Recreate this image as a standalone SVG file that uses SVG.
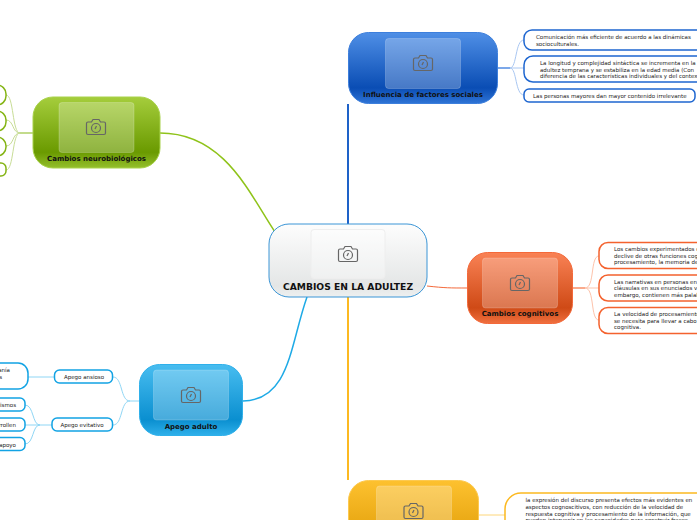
<svg xmlns="http://www.w3.org/2000/svg" width="697" height="520" viewBox="0 0 697 520">
<style>
text{font-family:"DejaVu Sans",Verdana,sans-serif}
.t{font-size:7px;font-weight:700;fill:#111;text-anchor:middle}
.s{font-size:5.500px;fill:#222}
.m{text-anchor:middle}
.e{text-anchor:end}
.img{fill:#fff;fill-opacity:.25;stroke:#fff;stroke-opacity:.2}
.cam{fill:none;stroke:#666;stroke-width:1.200}
.c{fill:none}
.leaf{fill:#fff;stroke-width:1.500}
</style>
<defs>
<linearGradient id="gc" x1="0" y1="0" x2="0" y2="1"><stop offset="0" stop-color="#fdfdfd"/><stop offset=".85" stop-color="#e4e6e6"/><stop offset="1" stop-color="#eef0f0"/></linearGradient>
<linearGradient id="gb" x1="0" y1="0" x2="0" y2="1"><stop offset="0" stop-color="#4f8fe6"/><stop offset=".78" stop-color="#0a4db4"/><stop offset="1" stop-color="#2f74d6"/></linearGradient>
<linearGradient id="gg" x1="0" y1="0" x2="0" y2="1"><stop offset="0" stop-color="#a5cd3c"/><stop offset=".78" stop-color="#6a9a00"/><stop offset="1" stop-color="#94bf2c"/></linearGradient>
<linearGradient id="ga" x1="0" y1="0" x2="0" y2="1"><stop offset="0" stop-color="#48bdf0"/><stop offset=".78" stop-color="#0a8fd0"/><stop offset="1" stop-color="#2fb0ea"/></linearGradient>
<linearGradient id="go" x1="0" y1="0" x2="0" y2="1"><stop offset="0" stop-color="#f98255"/><stop offset=".78" stop-color="#cf4a16"/><stop offset="1" stop-color="#f0703f"/></linearGradient>
<linearGradient id="gy" x1="0" y1="0" x2="0" y2="1"><stop offset="0" stop-color="#fdc12f"/><stop offset="1" stop-color="#e29f0a"/></linearGradient>
<g id="camera">
<path class="cam" d="M-8 -5h3.500l1.500 -2.500h6l1.500 2.500h3.500a1.500 1.500 0 0 1 1.500 1.500v9.500a1.500 1.500 0 0 1 -1.500 1.500h-16a1.500 1.500 0 0 1 -1.500 -1.500v-9.500a1.500 1.500 0 0 1 1.500 -1.500z"/>
<circle class="cam" cx="0" cy="1" r="4.500"/>
<path class="cam" d="M-1 2l1.500 -3" stroke-width=".8"/>
</g>
</defs>

<g id="connectors">
<path class="c" d="M348 224V104" stroke="#1e62c8" stroke-width="2"/>
<path class="c" d="M348 297V480" stroke="#fcb921" stroke-width="2"/>
<path class="c" d="M275 232C250 195 225 133 160 133" stroke="#8fc31a" stroke-width="1.500"/>
<path class="c" d="M307 297C290 345 290 400 243 401" stroke="#1eaae6" stroke-width="1.500"/>
<path class="c" d="M427 286C445 288 450 288 467 288" stroke="#f4693a" stroke-width="1"/>
<g stroke="#a9c7f2">
<path class="c" d="M497 68H510C517 68 515 40 524 40"/>
<path class="c" d="M510 68H524"/>
<path class="c" d="M510 68C517 68 515 95 524 95"/>
</g>
<path class="c" d="M497 68H510" stroke="#5f95e4" stroke-width="1.500"/>
<g stroke="#fdc3ab">
<path class="c" d="M585 288C595 288 590 256 599 256"/>
<path class="c" d="M585 288H599"/>
<path class="c" d="M585 288C595 288 590 320 599 320"/>
</g>
<path class="c" d="M572 288H585" stroke="#f98e66" stroke-width="1.500"/>
<path class="c" d="M478 515H505" stroke="#fdd67a"/>
<g stroke="#c8dd96">
<path class="c" d="M20 133C12 133 14 95 6 95"/>
<path class="c" d="M20 133C12 133 14 120 6 120"/>
<path class="c" d="M20 133C12 133 14 146 6 146"/>
<path class="c" d="M20 133C12 133 14 170 6 170"/>
</g>
<path class="c" d="M33 133H20" stroke="#9cc440" stroke-width="1.200"/>
<g stroke="#8fd6f5">
<path class="c" d="M139 401H130C120 401 123 377 113 377"/>
<path class="c" d="M130 401C120 401 123 425 113 425"/>
<path class="c" d="M54 377H28"/>
<path class="c" d="M40 425C32 425 34 405 25 405"/>
<path class="c" d="M52 425H25"/>
<path class="c" d="M40 425C32 425 34 444 25 444"/>
</g>
</g>

<g id="central">
<rect x="269" y="224" width="158" height="73" rx="20" fill="url(#gc)" stroke="#3a95d6"/>
<rect x="311" y="229.500" width="74" height="49" rx="3" fill="#fff" fill-opacity=".35" stroke="#eee"/>
<use href="#camera" x="348" y="254"/>
<text x="348" y="290" text-anchor="middle" style="font-size:9.200px;font-weight:700" fill="#111">CAMBIOS EN LA ADULTEZ</text>
</g>

<g id="influencia">
<rect x="348.500" y="32.500" width="149" height="71" rx="20" fill="url(#gb)" stroke="#3d7fdc"/>
<rect class="img" x="385.500" y="38.500" width="75" height="50" rx="3"/>
<use href="#camera" x="423" y="63"/>
<text class="t" x="423" y="97">Influencia de factores sociales</text>
</g>
<g id="inf-1">
<rect class="leaf" stroke="#1e66d0" x="524" y="30" width="190" height="20" rx="8"/>
<text class="s" x="536" y="38.500">Comunicación más eficiente  de acuerdo a las dinámicas</text>
<text class="s" x="536" y="46">socioculturales.</text>
</g>
<g id="inf-2">
<rect class="leaf" stroke="#1e66d0" x="524" y="56" width="190" height="26" rx="9"/>
<text class="s" x="540" y="65">La longitud y complejidad  sintáctica se incrementa en la</text>
<text class="s" x="540" y="71.500">adultez temprana y se estabiliza  en la edad media (Con</text>
<text class="s" x="540" y="78">diferencia de las características individuales y del contexto</text>
</g>
<g id="inf-3">
<rect class="leaf" stroke="#1e66d0" x="524" y="89" width="171" height="13" rx="5"/>
<text class="s" x="533" y="98">Las personas mayores dan mayor contenido irrelevante</text>
</g>

<g id="cognitivos">
<rect x="467.500" y="252.500" width="105" height="71" rx="20" fill="url(#go)" stroke="#f4693a"/>
<rect class="img" x="482.500" y="258" width="75" height="50" rx="3"/>
<use href="#camera" x="520" y="283"/>
<text class="t" x="520" y="316">Cambios cognitivos</text>
</g>
<g id="cog-1">
<rect class="leaf" stroke="#f4622e" x="599" y="242.500" width="120" height="26" rx="9"/>
<text class="s" x="614" y="251">Los cambios experimentados c</text>
<text class="s" x="614" y="257.500">declive de otras funciones cog</text>
<text class="s" x="614" y="264">procesamiento, la memoria de</text>
</g>
<g id="cog-2">
<rect class="leaf" stroke="#f4622e" x="599" y="275" width="120" height="26" rx="9"/>
<text class="s" x="614" y="283.500">Las narrativas en personas en</text>
<text class="s" x="614" y="290">cláusulas  en sus enunciados v</text>
<text class="s" x="614" y="297">embargo, contienen más palal</text>
</g>
<g id="cog-3">
<rect class="leaf" stroke="#f4622e" x="599" y="307.500" width="120" height="26" rx="9"/>
<text class="s" x="614" y="316">La velocidad de procesamiento</text>
<text class="s" x="614" y="322.500">se necesita para llevar a cabo</text>
<text class="s" x="614" y="329">cognitiva.</text>
</g>

<g id="discurso">
<rect x="348.500" y="480.500" width="130" height="60" rx="20" fill="url(#gy)" stroke="#fdc94f"/>
<rect class="img" x="376.500" y="486" width="75" height="50" rx="3"/>
<use href="#camera" x="413.500" y="511"/>
</g>
<g id="disc-1">
<rect class="leaf" stroke="#fcb921" x="505" y="493" width="210" height="50" rx="16"/>
<text class="s" x="525.500" y="501.500">la expresión del discurso presenta efectos más evidentes en</text>
<text class="s" x="525.500" y="508.500">aspectos cognoscitivos, con reducción de la velocidad de</text>
<text class="s" x="525.500" y="515.500">respuesta cognitiva y procesamiento de la información, que</text>
<text class="s" x="525.500" y="522">pueden intervenir en las capacidades para construir frases</text>
</g>

<g id="neuro">
<rect x="33" y="97" width="127" height="71" rx="20" fill="url(#gg)" stroke="#a8d24a"/>
<rect class="img" x="59" y="102.500" width="75" height="50" rx="3"/>
<use href="#camera" x="96" y="127"/>
<text class="t" x="96.500" y="161">Cambios neurobiológicos</text>
</g>
<g id="neuro-1"><rect class="leaf" stroke="#84b414" x="-20" y="85" width="26" height="20" rx="9"/></g>
<g id="neuro-2"><rect class="leaf" stroke="#84b414" x="-20" y="111" width="26" height="20" rx="9"/></g>
<g id="neuro-3"><rect class="leaf" stroke="#84b414" x="-20" y="137" width="26" height="19" rx="9"/></g>
<g id="neuro-4"><rect class="leaf" stroke="#84b414" x="-20" y="163" width="26" height="13" rx="5"/></g>

<g id="apego">
<rect x="139.500" y="364.500" width="103" height="71" rx="20" fill="url(#ga)" stroke="#2fb0ea"/>
<rect class="img" x="153.500" y="370" width="75" height="50" rx="3"/>
<use href="#camera" x="191" y="395"/>
<text class="t" x="191" y="429">Apego adulto</text>
</g>
<g id="ansioso">
<rect class="leaf" stroke="#12a3e4" x="54.500" y="370" width="58" height="13" rx="5"/>
<text class="s m" x="84" y="379">Apego ansioso</text>
</g>
<g id="evitativo">
<rect class="leaf" stroke="#12a3e4" x="52" y="418" width="60.500" height="13" rx="5"/>
<text class="s m" x="82" y="427">Apego evitativo</text>
</g>
<g id="ans-1">
<rect class="leaf" stroke="#12a3e4" x="-30" y="363" width="58" height="26" rx="10"/>
<text class="s e" x="10" y="372">anía</text>
<text class="s e" x="2" y="379">s</text>
</g>
<g id="evi-1">
<rect class="leaf" stroke="#12a3e4" x="-30" y="398" width="55" height="13" rx="5"/>
<text class="s e" x="16" y="407">lismos</text>
</g>
<g id="evi-2">
<rect class="leaf" stroke="#12a3e4" x="-30" y="418" width="55" height="13" rx="5"/>
<text class="s e" x="16" y="427">rrollen</text>
</g>
<g id="evi-3">
<rect class="leaf" stroke="#12a3e4" x="-30" y="437.500" width="55" height="13" rx="5"/>
<text class="s e" x="16" y="446.500">apoyo</text>
</g>
</svg>
